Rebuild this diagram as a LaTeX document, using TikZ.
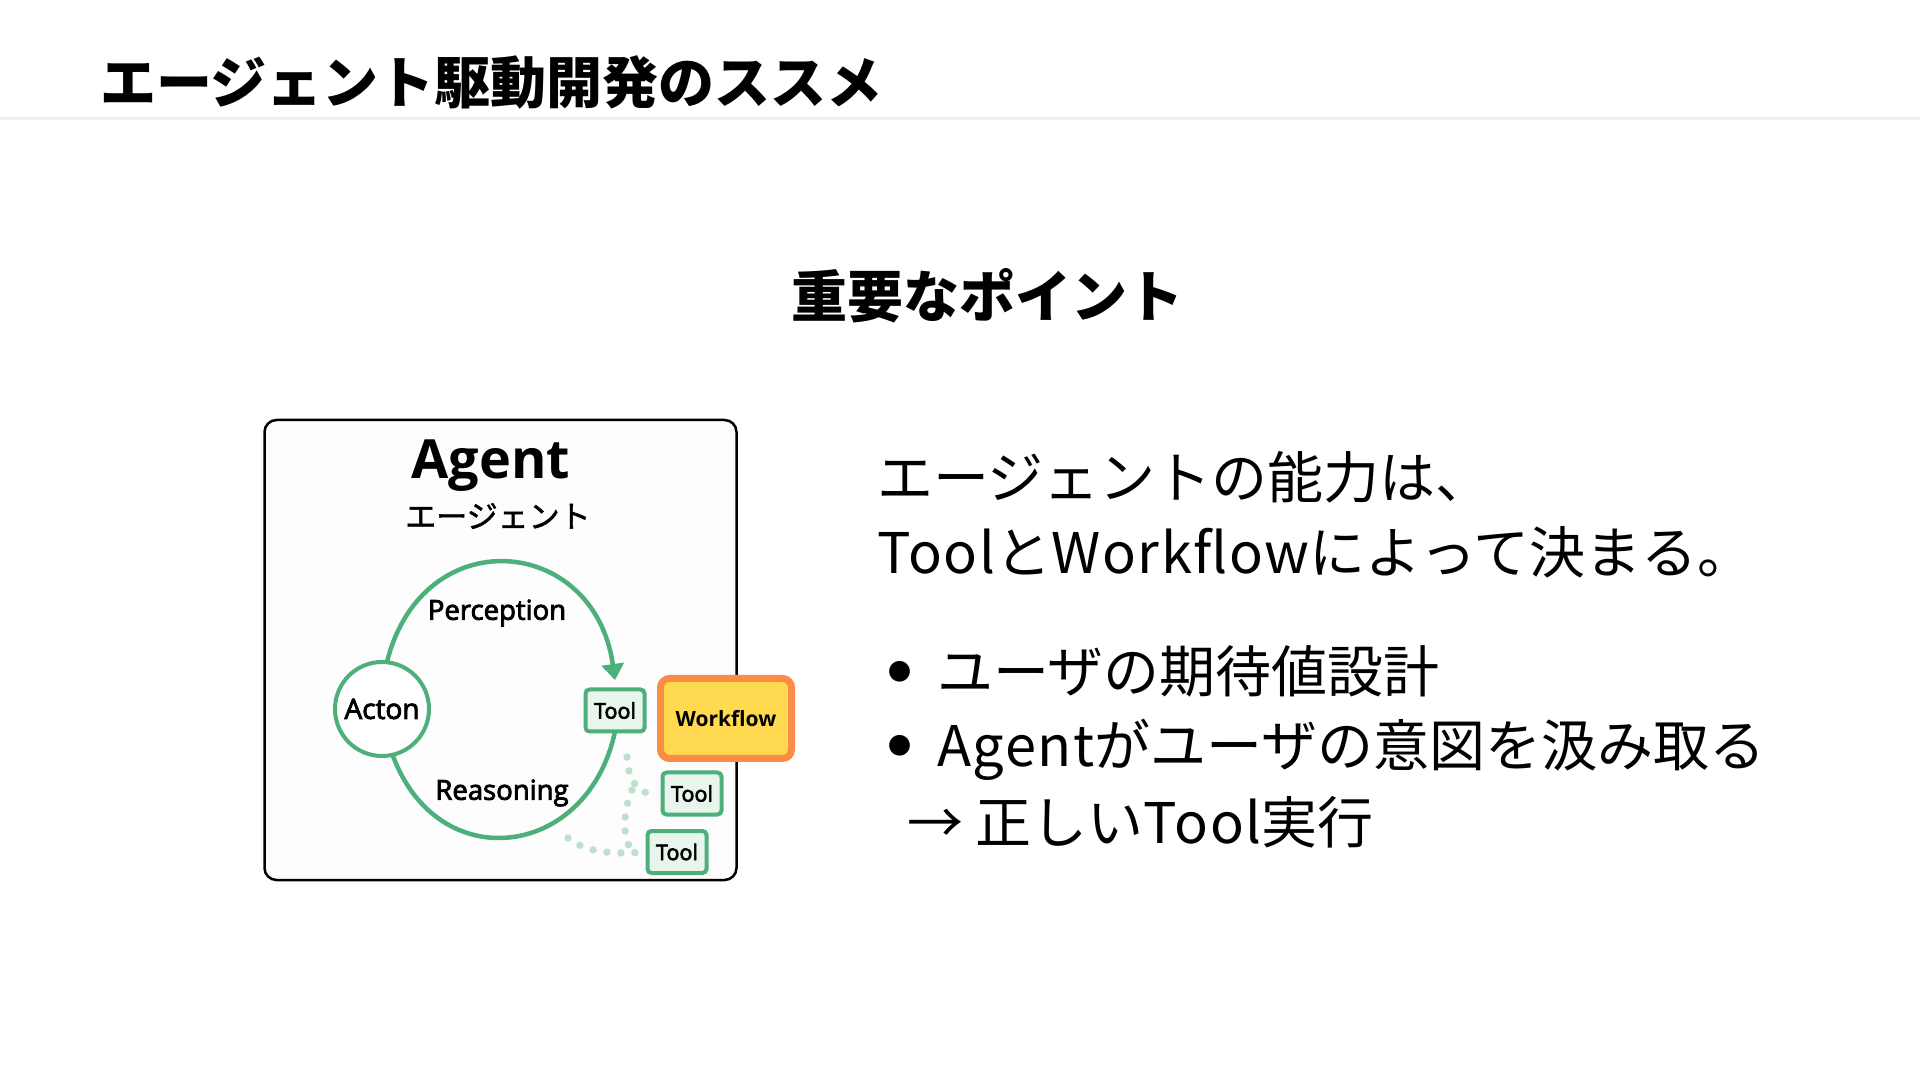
\documentclass[tikz,border=0pt]{standalone}
\usepackage{fontspec}
\setmainfont{Noto Sans CJK JP}
\newfontfamily\latfont{Open Sans}
\newfontfamily\latmed[FakeBold=3]{Open Sans}
\newfontfamily\cjkmed[FakeBold=1.5]{Noto Sans CJK JP}
\newfontfamily\bodylat[LetterSpace=3]{Noto Sans CJK JP}
\usetikzlibrary{arrows.meta}
\definecolor{grn}{HTML}{4DB07B}
\definecolor{grnfill}{HTML}{E8F5EC}
\definecolor{dotc}{HTML}{BFE1CB}
\definecolor{org}{HTML}{F98D45}
\definecolor{yel}{HTML}{FFD94F}
\definecolor{sepc}{HTML}{EEEEEE}
\definecolor{framefill}{HTML}{FDFDFD}
\begin{document}
\begin{tikzpicture}[x=1pt,y=1pt,
  every node/.style={inner sep=0pt,outer sep=0pt},
  bodytext/.style={anchor=base west,font=\fontsize{56}{60}\selectfont},
  bulletdot/.style={font=\fontsize{23}{24}\selectfont},
  toolbox/.style={draw=grn,fill=grnfill,line width=4pt,rounded corners=4pt,minimum width=59pt,minimum height=42pt,font=\latmed\fontsize{21.5}{24}\selectfont},
  loopline/.style={draw=grn,line width=4.5pt},
  dotline/.style={draw=dotc,line width=7.5pt,line cap=round,dash pattern=on 0pt off 14pt,shorten >=10pt},
  lbl/.style={font=\latmed\fontsize{27.5}{30}\selectfont}]
\useasboundingbox[fill=white] (0,0) rectangle (1920,1080);
\draw[draw=sepc,line width=3pt] (0,961) -- (1920,961);
\node[anchor=base west,font=\bfseries\fontsize{56}{60}\selectfont] (title) at (100,976) {エージェント駆動開発のススメ};
\node[anchor=base,font=\bfseries\fontsize{56}{60}\selectfont] (heading) at (987,762) {重要なポイント};

% diagram
\node[draw=black,line width=2.5pt,fill=framefill,rounded corners=12pt,minimum width=472pt,minimum height=460pt] (frame) at (500.5,430) {};
\node[font=\latfont\bfseries\fontsize{54}{60}\selectfont] (agent) at (491,614) {Agent};
\node[font=\cjkmed\fontsize{31}{36}\selectfont] (agentjp) at (498,564) {エージェント};

\node[circle,draw=grn,line width=4pt,fill=white,minimum size=94pt,font=\latmed\fontsize{28}{30}\selectfont] (acton) at (382,371) {Acton};
\node[toolbox] (tool1) at (615,369.5) {Tool};
\node[toolbox] (tool2) at (692,286.5) {Tool};
\node[toolbox] (tool3) at (677,228) {Tool};
\node[draw=org,fill=yel,line width=7pt,rounded corners=9pt,minimum width=131pt,minimum height=80pt,font=\latfont\bfseries\fontsize{21}{24}\selectfont] (workflow) at (726,361.5) {Workflow};

\node[lbl] (perception) at (497,467) {Perception};
\node[lbl] (reasoning) at (502,287) {Reasoning};

\draw[loopline,-{Triangle[width=22pt,length=16pt]}] (acton.84) .. controls +(76:147) and +(98:147) .. ([yshift=9.5pt]tool1.north);
\draw[loopline] (tool1.south) .. controls +(258:131) and +(290:131) .. (acton.283);

% dotted links
\coordinate (da) at (627,323);
\coordinate (db) at (632,290);
\coordinate (dc) at (568,242);
\draw[dotline] (da) .. controls (628,298) and (640,286) .. (tool2.west);
\draw[dotline] (db) .. controls (620,262) and (624,228) .. (tool3.west);
\draw[dotline] (dc) .. controls (585,228) and (610,226) .. (tool3.west);

% right text
\node[bodytext] (l1) at (877,581.5) {エージェントの能力は、};
\node[bodytext] (l2) at (877,506.5) {{\bodylat Tool}と{\bodylat Workflow}によって決まる。};
\node[bulletdot] (b1) at (900,408) {●};
\node[bodytext] (t1) at (937,387.5) {ユーザの期待値設計};
\node[bulletdot] (b2) at (900,334) {●};
\node[bodytext] (t2) at (937,313.5) {{\bodylat Agent}がユーザの意図を汲み取る};
\node[bodytext] (t3) at (907,236.5) {→ 正しい{\bodylat Tool}実行};
\end{tikzpicture}
\end{document}
